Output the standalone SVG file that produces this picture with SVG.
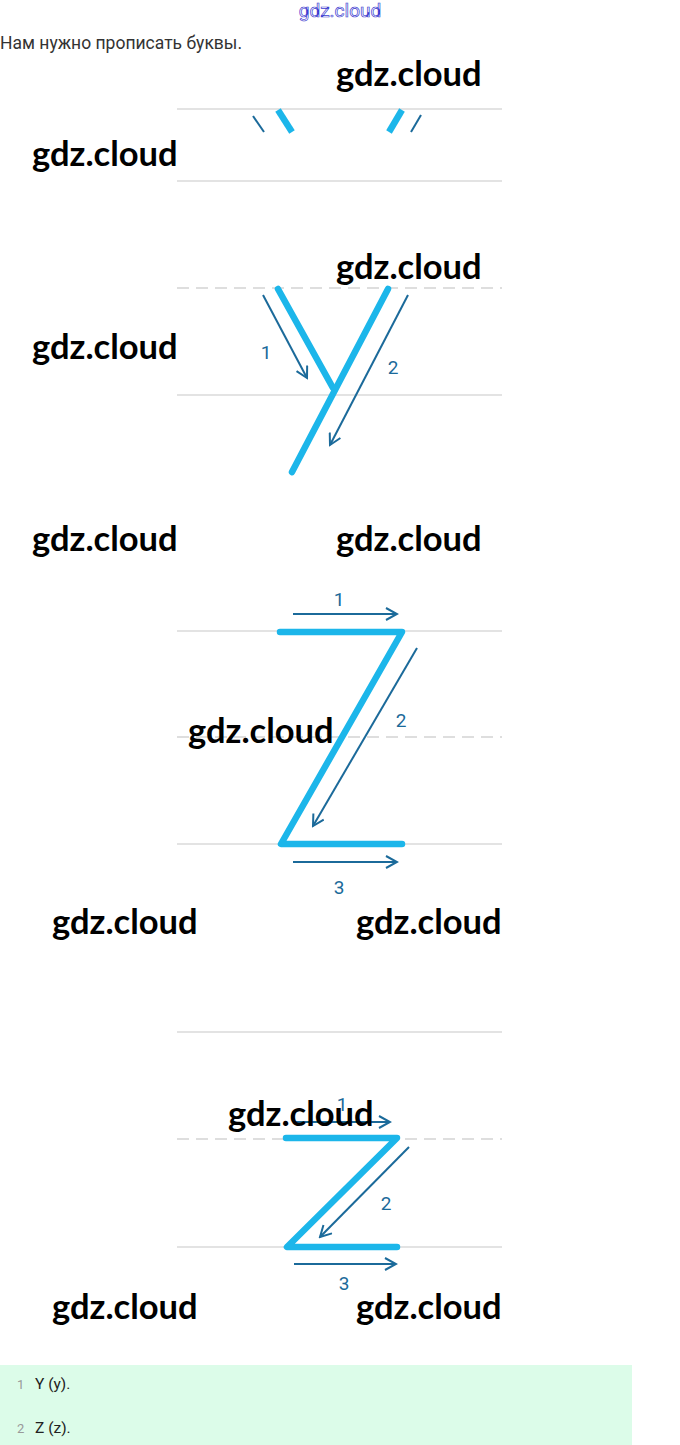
<svg xmlns="http://www.w3.org/2000/svg" width="680" height="1445" viewBox="0 0 680 1445">
<style>
.guide{stroke:#e3e3e3;stroke-width:2;fill:none}
.dash{stroke:#dedede;stroke-width:2;stroke-dasharray:12 7;fill:none}
.stroke{stroke:#1cb6ea;stroke-width:6.5;stroke-linecap:round;stroke-linejoin:round;fill:none}
.arr{stroke:#1b6a9a;stroke-width:2;fill:none;marker-end:url(#head)}
.num{font-family:"Roboto","Liberation Sans",sans-serif;font-size:19px;fill:#1b6a9a;text-anchor:middle}
.wm{font-family:"Lato","Liberation Sans",sans-serif;font-weight:bold;font-size:34.5px;fill:#000}
.li{font-family:"Roboto","Liberation Sans",sans-serif;font-size:15.5px;fill:#222}
.ln{font-family:"Roboto","Liberation Sans",sans-serif;font-size:13px;fill:#999}
</style>
<defs>
<marker id="head" viewBox="0 0 14 14" refX="12" refY="7" markerWidth="14" markerHeight="14" markerUnits="userSpaceOnUse" orient="auto">
<path d="M1,1 L12,7 L1,13" fill="none" stroke="#1b6a9a" stroke-width="2"/>
</marker>
</defs>
<rect width="680" height="1445" fill="#fff"/>
<text x="340" y="17" text-anchor="middle" font-family="Roboto, Liberation Sans, sans-serif" font-size="19" fill="#fff" stroke="#3b3bd0" stroke-width="0.7">gdz.cloud</text>
<text x="0" y="49" font-family="Roboto, Liberation Sans, sans-serif" font-size="17.5" fill="#333">Нам нужно прописать буквы.</text>

<g id="section-partial">
<line class="guide" x1="177" y1="109" x2="502" y2="109"/>
<line class="guide" x1="177" y1="181" x2="502" y2="181"/>
<line x1="253" y1="116" x2="264" y2="132" stroke="#1b6a9a" stroke-width="2"/>
<line x1="278" y1="110" x2="292" y2="132" stroke="#1cb6ea" stroke-width="6.5"/>
<line x1="402" y1="110" x2="389" y2="132" stroke="#1cb6ea" stroke-width="6.5"/>
<line x1="421" y1="115" x2="411" y2="132" stroke="#1b6a9a" stroke-width="2"/>
</g>

<g id="letter-y">
<line class="dash" x1="177" y1="288" x2="502" y2="288"/>
<line class="guide" x1="177" y1="395" x2="502" y2="395"/>
<path class="stroke" d="M278,289 L333,388"/>
<path class="stroke" d="M388,289 L292,472"/>
<line class="arr" x1="263" y1="295" x2="307" y2="378"/>
<line class="arr" x1="408" y1="295" x2="330" y2="445"/>
<text class="num" x="266" y="359">1</text>
<text class="num" x="393" y="374">2</text>
</g>

<g id="letter-z-big">
<line class="guide" x1="177" y1="631" x2="502" y2="631"/>
<line class="dash" x1="177" y1="737" x2="502" y2="737"/>
<line class="guide" x1="177" y1="844" x2="502" y2="844"/>
<path class="stroke" d="M280,632 L402,632 L281,844 L402,844"/>
<line class="arr" x1="293" y1="614" x2="397" y2="614"/>
<line class="arr" x1="417" y1="648" x2="313" y2="826"/>
<line class="arr" x1="293" y1="862" x2="397" y2="862"/>
<text class="num" x="339" y="606">1</text>
<text class="num" x="401" y="727">2</text>
<text class="num" x="339" y="894">3</text>
</g>

<g id="letter-z-small">
<line class="guide" x1="177" y1="1032" x2="502" y2="1032"/>
<line class="dash" x1="177" y1="1139" x2="502" y2="1139"/>
<line class="guide" x1="177" y1="1247" x2="502" y2="1247"/>
<path class="stroke" d="M286,1138 L397,1138 L287,1247 L397,1247"/>
<line class="arr" x1="294" y1="1122" x2="390" y2="1122"/>
<line class="arr" x1="409" y1="1147" x2="320" y2="1237"/>
<line class="arr" x1="294" y1="1264" x2="396" y2="1264"/>
<text class="num" x="342" y="1111">1</text>
<text class="num" x="386" y="1210">2</text>
<text class="num" x="344" y="1290">3</text>
</g>

<g id="answers">
<rect x="0" y="1365" width="632" height="80" fill="#dcfce9"/>
<text class="ln" x="17" y="1389">1</text>
<text class="li" x="35" y="1389">Y (y).</text>
<text class="ln" x="17" y="1433">2</text>
<text class="li" x="35" y="1433">Z (z).</text>
</g>

<g id="watermarks">
<text class="wm" x="336" y="86">gdz.cloud</text>
<text class="wm" x="32" y="166">gdz.cloud</text>
<text class="wm" x="336" y="279">gdz.cloud</text>
<text class="wm" x="32" y="359">gdz.cloud</text>
<text class="wm" x="32" y="551">gdz.cloud</text>
<text class="wm" x="336" y="551">gdz.cloud</text>
<text class="wm" x="188" y="743">gdz.cloud</text>
<text class="wm" x="52" y="934">gdz.cloud</text>
<text class="wm" x="356" y="934">gdz.cloud</text>
<text class="wm" x="228" y="1126">gdz.cloud</text>
<text class="wm" x="52" y="1319">gdz.cloud</text>
<text class="wm" x="356" y="1319">gdz.cloud</text>
</g>
</svg>
